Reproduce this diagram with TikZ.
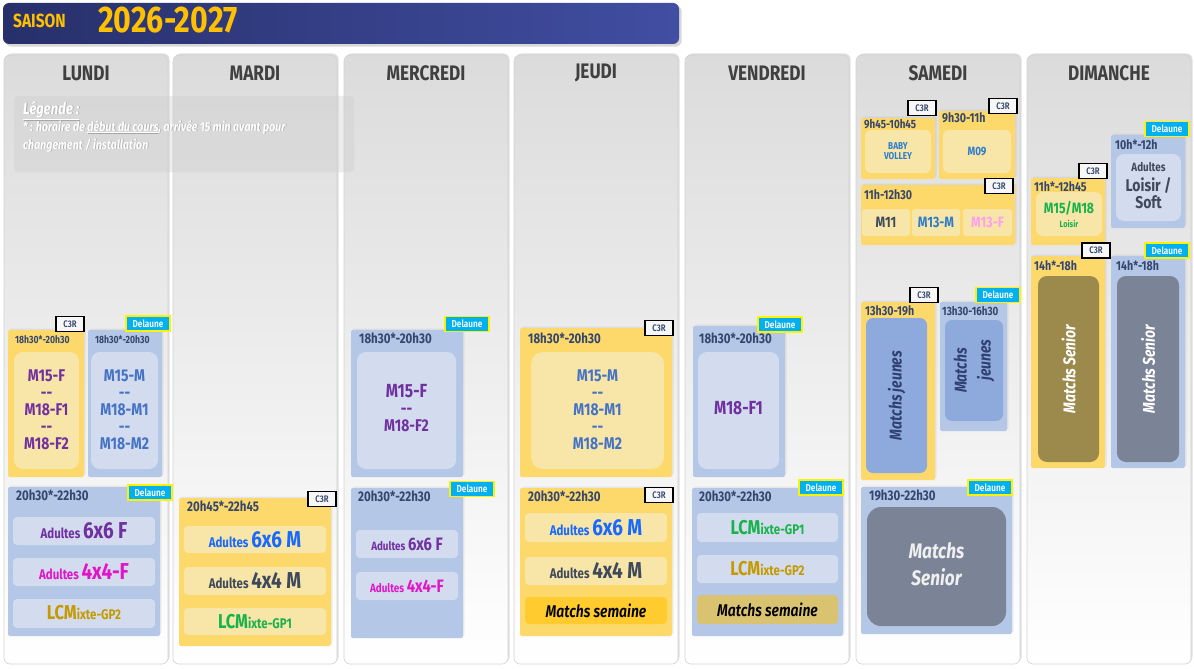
\documentclass[tikz,border=0pt]{standalone}
\usepackage{fontspec}
\setmainfont{Fira Sans}[FakeStretch=0.82, UprightFont={* SemiBold}, BoldFont={* Bold}, ItalicFont={* SemiBold Italic}, BoldItalicFont={* Bold Italic}]
\usetikzlibrary{shadows}
\definecolor{ylw}{HTML}{FDD96C}
\definecolor{ylwin}{HTML}{F8E5A8}
\definecolor{blu}{HTML}{B4C7E7}
\definecolor{bluin}{HTML}{D3DCEE}
\definecolor{tlc}{HTML}{34466E}
\definecolor{hdc}{HTML}{404040}
\definecolor{ttl}{HTML}{FFC000}
\definecolor{tb1}{HTML}{27306A}
\definecolor{tb2}{HTML}{414EA2}
\definecolor{purp}{HTML}{7030A0}
\definecolor{mag}{HTML}{E015C8}
\definecolor{gold}{HTML}{C49A00}
\definecolor{grn}{HTML}{17B24A}
\definecolor{bl}{HTML}{1769FF}
\definecolor{slate}{HTML}{3E4A5C}
\definecolor{mblu}{HTML}{4472C4}
\definecolor{sky}{HTML}{2E7DCB}
\definecolor{pink}{HTML}{FF9FF0}
\definecolor{dl}{HTML}{00B0F0}
\definecolor{jeu}{HTML}{8EA9DB}
\definecolor{jeut}{HTML}{2F4072}
\definecolor{sen}{HTML}{7B8396}
\definecolor{khk}{HTML}{9C8A4C}
\definecolor{msy}{HTML}{FFCB2F}
\definecolor{msk}{HTML}{D9C270}
\newcommand\fs[1]{\fontsize{#1}{#1}\selectfont}
\newcommand\dd{\mbox{-}\mbox{-}}
\tikzset{
  col/.style={rounded corners=6, top color=gray!28, bottom color=white, drop shadow={opacity=0.25, shadow xshift=1.5, shadow yshift=-1.5}, draw=gray!35, line width=0.6},
  yb/.style={fill=ylw, rounded corners=2, drop shadow={opacity=0.12, shadow xshift=1.5, shadow yshift=-1.5}},
  bb/.style={fill=blu, rounded corners=2, drop shadow={opacity=0.12, shadow xshift=1.5, shadow yshift=-1.5}},
  yi/.style={fill=ylwin, rounded corners=#1},
  yi/.default=5,
  bi/.style={fill=bluin, rounded corners=#1},
  bi/.default=5,
  tl/.style={anchor=base west, text=tlc, font=\bfseries\fs{13}, inner sep=0},
  hd/.style={text=hdc, font=\bfseries\fs{21}},
  c3r/.style={draw=black, line width=1.6, fill=gray!6, text=tlc, font=\fs{9.5}, inner sep=0, minimum width=28, minimum height=15},
  del/.style={draw=yellow, line width=1.3, fill=dl, text=white, font=\fs{10}, inner sep=0, minimum width=44, minimum height=15},
  big/.style={font=\bfseries\fs{17}, align=center, inner sep=0},
  rot/.style={rotate=90, font=\bfseries\itshape\fs{17}, align=center, inner sep=0},
}
\newcommand\bx[5]{\path[#1] (#2,#3) rectangle (#4,#5);}
\newcommand\ad[3]{{\bfseries\fs{14}Adultes}\,{\bfseries\fs{#2}\color{#1}#3}}
\newcommand\lcm[1]{{\bfseries\fs{20}LCM}{\bfseries\fs{14}ixte-GP#1}}
\begin{document}
\begin{tikzpicture}[x=1pt,y=-1pt]
\useasboundingbox (0,0) rectangle (1194,669);
\fill[white] (0,0) rectangle (1194,669);
% title
\path[rounded corners=6, left color=tb1, right color=tb2, drop shadow={opacity=0.3}] (3,3) rectangle (679,44);
\node[anchor=base west, text=ttl, font=\bfseries\fs{19}, inner sep=0] (saison) at (13,28) {SAISON};
\node[anchor=base west, text=ttl, font=\bfseries\fs{37}, inner sep=0] (annee) at (98,33) {2026-2027};
% columns
\foreach \x/\n in {4/LUNDI,173/MARDI,344/MERCREDI,514/JEUDI,685/VENDREDI,856/SAMEDI,1027/DIMANCHE}{
  \path[col] (\x,55) rectangle ({\x+164},664);
  \node[hd] (h\n) at ({\x+82},73) {\n};
}
% legend
\path[fill=gray!40, fill opacity=0.35, rounded corners=3, draw=gray!25] (14,96) rectangle (354,172);
\node[anchor=base west, text=gray!70, font=\bfseries\itshape\fs{16}, inner sep=0] at (23.8,114.8) {\underline{Légende :}};
\node[anchor=base west, text=white, font=\bfseries\itshape\fs{16}, inner sep=0] (leg) at (23,114) {\underline{Légende :}};
\node[anchor=north west, text=gray!70, font=\bfseries\itshape\fontsize{13}{18}\selectfont, align=left, inner sep=0] at (23.7,120.7) {* : horaire de \underline{début du cours}, arrivée 15 min avant pour\\changement / installation};
\node[anchor=north west, text=white, font=\bfseries\itshape\fontsize{13}{18}\selectfont, align=left, inner sep=0] (legt) at (23,120) {* : horaire de \underline{début du cours}, arrivée 15 min avant pour\\changement / installation};
% ===== LUNDI
\bx{yb}{8}{330}{84}{477}\node[tl] (l1t) at (15,343) {\fs{10.5}18h30*-20h30};
\bx{yi=9}{14}{352}{79}{469}
\node[big, text=purp] (l1) at (46.5,410) {\fontsize{17}{21}\selectfont M15-F\\\dd\\M18-F1\\\dd\\M18-F2};
\node[c3r] (l1c) at (70,324) {C3R};
\bx{bb}{88}{330}{162}{477}\node[tl] (l2t) at (95,343) {\fs{10.5}18h30*-20h30};
\bx{bi=9}{91}{352}{158}{469}
\node[big, text=mblu] (l2) at (124.5,410) {\fontsize{17}{21}\selectfont M15-M\\\dd\\M18-M1\\\dd\\M18-M2};
\node[del] (l2d) at (148,323.5) {Delaune};
\bx{bb}{8}{487}{160}{636}\node[tl] (l3t) at (16,500) {\fs{14}20h30*-22h30};
\node[del] (l3d) at (150,492.5) {Delaune};
\bx{bi=4}{13}{517}{155}{545}\node[big,text=purp] (l3a) at (84,531) {\ad{purp}{23}{6x6 F}};
\bx{bi=4}{13}{558}{155}{586}\node[big,text=mag] (l3b) at (84,572) {\ad{mag}{23}{4x4-F}};
\bx{bi=4}{13}{599}{155}{628}\node[big,text=gold] (l3c) at (84,613) {\lcm{2}};
% ===== MARDI
\bx{yb}{179}{498}{331}{646}\node[tl] (m1t) at (187,511) {\fs{14}20h45*-22h45};
\node[c3r] (m1c) at (322,499) {C3R};
\bx{yi=4}{184}{526}{326}{553}\node[big,text=bl] (m1a) at (255,539.5) {\ad{bl}{23}{6x6 M}};
\bx{yi=4}{184}{567}{326}{595}\node[big,text=slate] (m1b) at (255,581) {\ad{slate}{23}{4x4 M}};
\bx{yi=4}{184}{608}{326}{635}\node[big,text=grn] (m1c2) at (255,621.5) {\lcm{1}};
% ===== MERCREDI
\bx{bb}{351}{330}{463}{477}\node[tl] (w1t) at (359,343) {\fs{14}18h30*-20h30};
\node[del] (w1d) at (467,324) {Delaune};
\bx{bi=9}{357}{352}{456}{469}
\node[big, text=purp] (w1) at (406.5,408) {\fontsize{19}{24}\selectfont M15-F\\\dd\\M18-F2};
\bx{bb}{351}{488}{463}{638}\node[tl] (w2t) at (358,501) {\fs{14}20h30*-22h30};
\node[del] (w2d) at (472,489) {Delaune};
\bx{bi=4}{356}{530}{458}{558}\node[big,text=purp] (w2a) at (407,544) {{\fs{12}Adultes}\,{\fs{18}6x6 F}};
\bx{bi=4}{356}{572}{458}{600}\node[big,text=mag] (w2b) at (407,586) {{\fs{12}Adultes}\,{\fs{18}4x4-F}};
% ===== JEUDI
\bx{yb}{520}{328}{672}{477}\node[tl] (j1t) at (528,343) {\fs{14}18h30*-20h30};
\node[c3r] (j1c) at (659,328) {C3R};
\bx{yi=12}{531}{352}{664}{469}
\node[big, text=mblu] (j1) at (597.5,410) {\fontsize{17}{21}\selectfont M15-M\\\dd\\M18-M1\\\dd\\M18-M2};
\bx{yb}{520}{488}{672}{636}\node[tl] (j2t) at (528,501) {\fs{14}20h30*-22h30};
\node[c3r] (j2c) at (659,495) {C3R};
\bx{yi=4}{525}{513}{667}{542}\node[big,text=bl] (j2a) at (596,527.5) {\ad{bl}{23}{6x6 M}};
\bx{yi=4}{525}{557}{667}{585}\node[big,text=slate] (j2b) at (596,571) {\ad{slate}{23}{4x4 M}};
\bx{fill=msy, rounded corners=4}{525}{597}{667}{624}\node[text=black, font=\itshape\fs{17}] (j2c2) at (596,610.5) {Matchs semaine};
% ===== VENDREDI
\bx{bb}{693}{326}{785}{477}\node[tl] (v1t) at (699,343) {\fs{14}18h30*-20h30};
\node[del] (v1d) at (780,324.5) {Delaune};
\bx{bi=9}{698}{352}{779}{469}
\node[big, text=purp, font=\bfseries\fs{19}] (v1) at (738.5,408) {M18-F1};
\bx{bb}{692}{488}{843}{636}\node[tl] (v2t) at (699,501) {\fs{14}20h30*-22h30};
\node[del] (v2d) at (821,487.5) {Delaune};
\bx{bi=4}{697}{513}{838}{542}\node[big,text=grn] (v2a) at (767.5,527.5) {\lcm{1}};
\bx{bi=4}{697}{555}{838}{583}\node[big,text=gold] (v2b) at (767.5,569) {\lcm{2}};
\bx{fill=msk, rounded corners=4}{697}{595}{838}{624}\node[text=black, font=\itshape\fs{17}] (v2c) at (767.5,609.5) {Matchs semaine};
% ===== SAMEDI
\bx{yb}{861}{118}{935}{179}\node[tl] (s1t) at (864,128) {\fs{12}9h45-10h45};
\node[c3r] (s1c) at (922,108) {C3R};
\bx{yi=6}{865}{130}{931}{173}\node[big, text=sky, font=\bfseries\fs{10}] (s1) at (898,151.5) {\fontsize{10}{14}\selectfont BABY\\VOLLEY};
\bx{yb}{939}{111}{1015}{179}\node[tl] (s2t) at (942,122) {\fs{13}9h30-11h};
\node[c3r] (s2c) at (1003,106) {C3R};
\bx{yi=6}{943}{130}{1011}{173}\node[big, text=sky, font=\bfseries\fs{12}] (s2) at (977,151.5) {M09};
\bx{yb}{861}{185}{1015}{245}\node[tl] (s3t) at (864,199) {\fs{13}11h-12h30};
\node[c3r] (s3c) at (999,186) {C3R};
\bx{yi=3}{862}{209}{910}{236}\node[big, text=slate, font=\bfseries\fs{15}] (s3a) at (886,222.5) {M11};
\bx{yi=3}{912}{209}{960}{236}\node[big, text=sky, font=\bfseries\fs{15}] (s3b) at (936,222.5) {M13-M};
\bx{yi=3}{963}{209}{1012}{236}\node[big, text=pink, font=\bfseries\fs{15}] (s3c2) at (987.5,222.5) {M13-F};
\bx{yb}{861}{302}{935}{480}\node[tl] (s4t) at (865,315) {\fs{13}13h30-19h};
\node[c3r] (s4c) at (924,295) {C3R};
\bx{fill=jeu, rounded corners=7}{866}{318}{927}{473}\node[rot, text=jeut] (s4) at (896.5,395.5) {Matchs jeunes};
\bx{bb}{940}{302}{1007}{431}\node[tl] (s5t) at (942,315) {\fs{12}13h30-16h30};
\node[del] (s5d) at (998,295) {Delaune};
\bx{fill=jeu, rounded corners=7}{945}{320}{1003}{421}\node[rot, text=jeut, font=\bfseries\itshape\fontsize{17}{24}\selectfont] (s5) at (974,370.5) {Matchs\\\hspace*{1.2em}jeunes};
\bx{bb}{861}{487}{1012}{634}\node[tl] (s6t) at (869,500) {\fs{14}19h30-22h30};
\node[del] (s6d) at (990,487.5) {Delaune};
\bx{fill=sen, rounded corners=14}{867}{507}{1006}{626}\node[big, text=gray!12, font=\bfseries\itshape\fontsize{21}{27}\selectfont] (s6) at (936.5,564) {Matchs\\Senior};
% ===== DIMANCHE
\bx{yb}{1031}{178}{1105}{245}\node[tl] (d1t) at (1034,191) {\fs{13}11h*-12h45};
\node[c3r] (d1c) at (1093,171) {C3R};
\bx{yi=7}{1036}{192}{1102}{236}\node[big, text=grn, font=\bfseries\fs{15}] (d1) at (1069,214) {M15/M18\\[-1pt]{\fs{9}Loisir}};
\bx{bb}{1111}{135}{1185}{228}\node[tl] (d2t) at (1115,149) {\fs{13}10h*-12h};
\node[del] (d2d) at (1167,129) {Delaune};
\bx{bi=8}{1116}{154}{1181}{221}\node[big, text=slate] (d2) at (1148.5,186) {{\fs{12}Adultes}\\[3pt]\fontsize{17}{21}\selectfont Loisir /\\Soft};
\bx{yb}{1031}{256}{1105}{468}\node[tl] (d3t) at (1034,270) {\fs{13}14h*-18h};
\node[c3r] (d3c) at (1096,250.5) {C3R};
\bx{fill=khk, rounded corners=9}{1038}{276}{1099}{462}\node[rot, text=white] (d3) at (1068.5,369) {Matchs Senior};
\bx{bb}{1111}{256}{1185}{468}\node[tl] (d4t) at (1116,270) {\fs{13}14h*-18h};
\node[del] (d4d) at (1167,250.5) {Delaune};
\bx{fill=sen, rounded corners=9}{1117}{276}{1179}{462}\node[rot, text=white] (d4) at (1148,369) {Matchs Senior};
\end{tikzpicture}
\end{document}
